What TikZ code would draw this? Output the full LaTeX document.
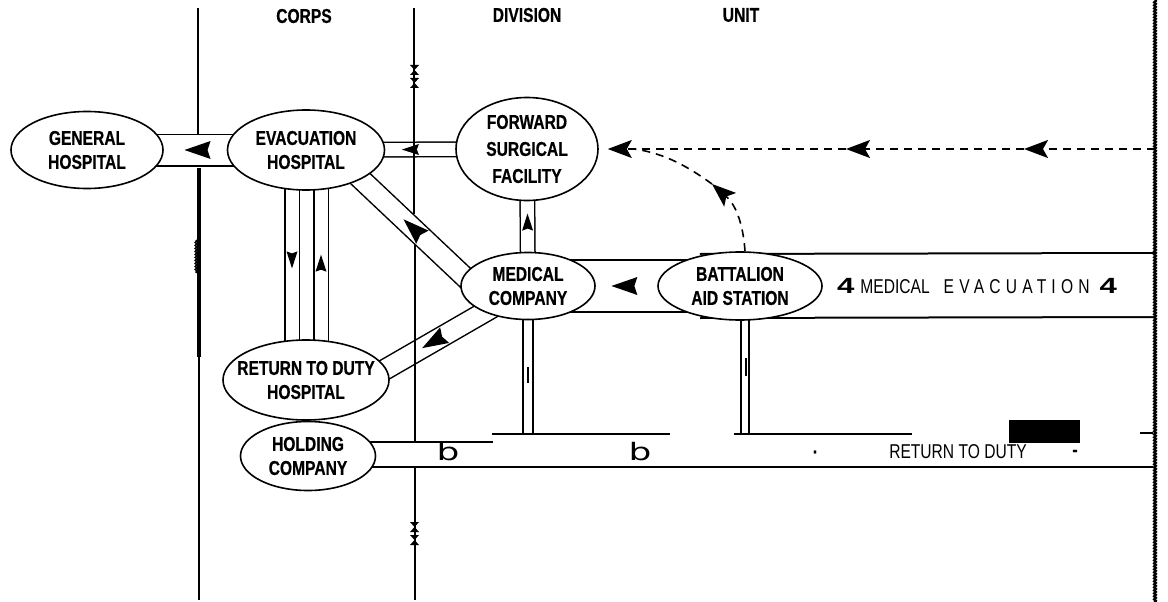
\documentclass[tikz,border=0pt]{standalone}
\usepackage{fontspec}
\newfontfamily\lblfont{Liberation Sans}[FakeStretch=0.78]
\newfontfamily\heavyfont{Liberation Sans}[FakeStretch=0.78,FakeBold=0.5]
\newfontfamily\roundfont{DejaVu Sans}
\usepackage{tikz}
\usetikzlibrary{arrows.meta,shapes.geometric,backgrounds,decorations.markings,decorations.pathmorphing}
\tikzset{
  station/.style={ellipse,draw,line width=1.6pt,fill=white,align=center,inner xsep=-12pt,inner ysep=0pt,font=\heavyfont\bfseries\fontsize{20}{24}\selectfont},
  colhead/.style={font=\heavyfont\bfseries\fontsize{20}{22}\selectfont},
  lane/.style={font=\lblfont\fontsize{20}{22}\selectfont,inner sep=0pt},
  glyph/.style={font=\roundfont\fontsize{24}{24}\selectfont,inner sep=0pt},
  pipe/.style={double,double distance=#1,line width=1.5pt},
  rail/.style={line width=2.6pt},
  flow/.style={decorate,decoration={markings,mark=at position #1 with {\fill (12pt,0pt) -- (-14pt,9pt) -- (-11pt,0pt) -- (-14pt,-9pt) -- cycle;}}},
  smallflow/.style={decorate,decoration={markings,mark=at position #1 with {\fill (8pt,0pt) -- (-9pt,5.5pt) -- (-7pt,0pt) -- (-9pt,-5.5pt) -- cycle;}}},
  dashline/.style={line width=1.6pt,dash pattern=on 8pt off 6pt},
  headtip/.style={-{Stealth[length=24pt,width=18pt,inset=5pt]}},
  hatch/.style={line width=2.4pt,decorate,decoration={snake,amplitude=0.8pt,segment length=3pt}}
}

\begin{document}
\begin{tikzpicture}[x=1pt,y=-1pt]
\useasboundingbox (0,0) rectangle (1168,602);
\node[station,minimum width=152pt,minimum height=77pt] (gen) at (87,150) {GENERAL\\HOSPITAL};
\node[station,minimum width=157pt,minimum height=80pt] (evac) at (306,150) {EVACUATION\\HOSPITAL};
\node[station,minimum width=142pt,minimum height=103pt] (fsf) at (527,149) {FORWARD\\[3pt]SURGICAL\\[3pt]FACILITY};
\node[station,minimum width=134pt,minimum height=67pt] (medco) at (528,286) {MEDICAL\\COMPANY};
\node[station,minimum width=164pt,minimum height=68pt] (bas) at (740,286) {BATTALION\\AID STATION};
\node[station,minimum width=166pt,minimum height=80pt] (rtd) at (306,380) {RETURN TO DUTY\\HOSPITAL};
\node[station,minimum width=135pt,minimum height=69pt] (hold) at (308,456) {HOLDING\\COMPANY};
\coordinate (mcbar) at (528,434);
\coordinate (basbar) at (745,434);
\coordinate (evend) at (1155,285);
\coordinate (feed) at (1155,149);
\coordinate (d1) at (1024,149);
\coordinate (d2) at (846,149);
\coordinate (bend) at (712,184);
\coordinate (join) at (634,149);

\begin{scope}[on background layer]
\fill[white] (0,0) rectangle (1168,602);
\draw[pipe=30pt] (evac.center) -- (gen.center);
\draw[pipe=13pt] (fsf.center) -- (evac.center);
\foreach \dx in {-14,15} \draw[pipe=13pt] ([xshift=\dx pt]evac.center) -- ([xshift=\dx pt]rtd.center);
\draw[pipe=19pt,shorten <=-14pt,shorten >=-14pt] (medco.171) -- (evac.-28);
\draw[pipe=19pt,shorten <=-14pt,shorten >=-14pt] (medco.211) -- (rtd.8);
\draw[pipe=13pt] (medco.center) -- (fsf.center);
\draw[pipe=62pt,line width=2pt] ([xshift=-40pt]bas.center) -- (evend);
\draw[pipe=50pt,line width=2.4pt] (bas.center) -- (medco.center);
\draw[pipe=8pt,line width=2pt] (medco.center) -- (mcbar);
\draw[pipe=6pt,line width=1.8pt] ([xshift=5pt]bas.center) -- (basbar);
\draw[rail] ([yshift=14pt]hold.center) -- (493,442);
\draw[rail] ([yshift=-11pt]hold.center) -- (1153,467);
\end{scope}

\draw[rail] ([xshift=-36pt]mcbar) -- ([xshift=142pt]mcbar);
\draw[rail] ([xshift=-11pt]basbar) -- ([xshift=167pt]basbar);
\draw[line width=1.5pt] (1140,433) -- (1153,433);
\draw[line width=2.5pt] (528,367) -- (528,383);
\draw[line width=2pt] (746,358) -- (746,376);

\draw[line width=1.2pt] (198,8) -- (198,134);
\draw[line width=4pt] (199,168) -- (199,357);
\draw[line width=2.5pt] (199,357) -- (199,600);
\draw[hatch,line width=1.5pt] (196,240) -- (196,273);
\draw[line width=1.3pt] (414,8) -- (414,214);
\draw[line width=2.6pt] (415,245) -- (415,443);
\draw[line width=1.8pt] (415,467) -- (415,600);
\foreach \hy in {70,83,527,540} \fill (410,{\hy-5}) -- (419,{\hy-5}) -- (410,{\hy+5}) -- (419,{\hy+5}) -- cycle;
\draw[hatch] (1155,0) -- (1155,602);

\path[flow=0.5] (evac.center) -- (gen.center);
\path[smallflow=0.53] (fsf.center) -- (evac.center);
\path[smallflow=0.48] ([xshift=-14pt]evac.center) -- ([xshift=-14pt]rtd.center);
\path[smallflow=0.51] ([xshift=15pt]rtd.center) -- ([xshift=15pt]evac.center);
\path[flow=0.5] (medco.171) -- (evac.-28);
\path[flow=0.53] (medco.211) -- (rtd.8);
\path[smallflow=0.47] (medco.center) -- (fsf.center);
\path[flow=0.55] (bas.center) -- (medco.center);

\draw[dashline,headtip] (feed) -- (d1);
\draw[dashline,headtip] (d1) -- (d2);
\draw[dashline,headtip] (d2) -- ([xshift=9pt]fsf.east);
\draw[dashline,headtip] ([xshift=5pt]bas.north) .. controls (743,222) and (735,204) .. (bend);
\draw[dashline] (bend) .. controls (690,168) and (665,153) .. (join);

\node[colhead] (corps) at (304,16) {CORPS};
\node[colhead] (division) at (527,15) {DIVISION};
\node[colhead] (unit) at (741,15) {UNIT};
\node[lane] (evlbl) at (977,286) {\scalebox{2}[1.1]{\bfseries 4}\hspace{6pt}MEDICAL\hspace{14pt}{\addfontfeature{LetterSpace=26}EVACUATION}\hspace{10pt}\scalebox{2}[1.1]{\bfseries 4}};
\node[lane] (rtdlbl) at (958,452) {RETURN TO DUTY};
\foreach \bx in {448,640} \node[glyph] (b\bx) at (\bx,452) {\scalebox{1.5}[1]{b}};
\node[lane,font=\heavyfont\bfseries\fontsize{20}{22}\selectfont] (dot1) at (815,452) {.};
\node[lane,font=\heavyfont\bfseries\fontsize{20}{22}\selectfont] (dot2) at (1075,453) {-};
\fill (1009,420) rectangle (1080,443);
\end{tikzpicture}
\end{document}
